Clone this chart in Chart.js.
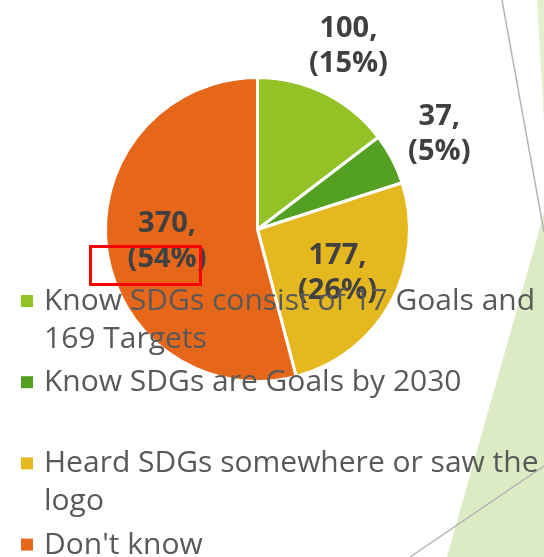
<!DOCTYPE html>
<html>
<head>
<meta charset="utf-8">
<script src="https://cdn.jsdelivr.net/npm/chart.js@4.4.0/dist/chart.umd.min.js"></script>
<style>
  html, body { margin: 0; padding: 0; background: #fff; }
  #wrap { position: relative; width: 544px; height: 557px; overflow: hidden; }
  #bg, #sdgCanvas { position: absolute; left: 0; top: 0; }
  #mark { position: absolute; left: 89px; top: 245px; width: 107px; height: 35px; border: 3px solid #ff0000; }
</style>
</head>
<body>
<div id="wrap">
  <svg id="bg" width="544" height="557">
    <polygon points="537,0 544,0 544,120" fill="#e3efcf"/>
    <polygon points="545,210 544,557 447,557" fill="#dcebc4"/>
    <line x1="502" y1="0" x2="544" y2="232" stroke="#b5b5b5" stroke-width="1.5"/>
    <line x1="410" y1="557" x2="544" y2="466" stroke="#b5b5b5" stroke-width="1.5"/>
  </svg>
  <canvas id="sdgCanvas" width="544" height="557"></canvas>
  <div id="mark"></div>
</div>
<script>
// answers to "do you know the SDGs?"
const categories = [
    ['Know SDGs consist of 17 Goals and', '169 Targets'],
    ['Know SDGs are Goals by 2030', ''],
    ['Heard SDGs somewhere or saw the', 'logo'],
    ["Don't know"]
];
const counts = [100, 37, 177, 370];
const sliceColors = ['#93c226', '#54a022', '#e5b820', '#e6671a'];

// value + percent labels, small slices go outside
const valueLabels = {
    id: 'valueLabels',
    afterDatasetsDraw(chart) {
        const ctx = chart.ctx;
        const data = chart.data.datasets[0].data;
        const total = data.reduce((a, b) => a + b, 0);
        ctx.save();
        ctx.font = 'bold 29px "Open Sans"';
        ctx.fillStyle = '#404040';
        ctx.textAlign = 'center';
        ctx.textBaseline = 'alphabetic';
        chart.getDatasetMeta(0).data.forEach((arc, i) => {
            const p = arc.getProps(['x', 'y', 'startAngle', 'endAngle', 'outerRadius'], true);
            const mid = (p.startAngle + p.endAngle) / 2;
            const share = data[i] / total;
            const r = p.outerRadius * (share < 0.2 ? 1.35 : 0.6);
            const x = p.x + Math.cos(mid) * r;
            const y = p.y + Math.sin(mid) * r;
            ctx.fillText(data[i] + ',', x, y - 9);
            ctx.fillText('(' + Math.round(share * 100) + '%)', x, y + 26);
        });
        ctx.restore();
    }
};

// legend drawn over the pie like in the slide
const sideLegend = {
    id: 'sideLegend',
    afterDraw(chart) {
        const ctx = chart.ctx;
        const colors = chart.data.datasets[0].backgroundColor;
        ctx.save();
        ctx.font = '30px "Open Sans"';
        ctx.textAlign = 'left';
        ctx.textBaseline = 'alphabetic';
        let y = 310;
        chart.data.labels.forEach((lines, i) => {
            ctx.fillStyle = colors[i];
            ctx.fillRect(21, y - 15, 12, 12);
            ctx.fillStyle = '#595959';
            lines.forEach(line => {
                ctx.fillText(line, 44, y);
                y += 37.5;
            });
            y += 6.2;
        });
        ctx.restore();
    }
};

new Chart(document.getElementById('sdgCanvas'), {
    type: 'pie',
    data: {
        labels: categories,
        datasets: [{
            data: counts,
            backgroundColor: sliceColors,
            borderColor: '#ffffff',
            borderWidth: 3,
            hoverOffset: 0
        }]
    },
    options: {
        responsive: false,
        animation: false,
        layout: { padding: { left: 104, right: 133, top: 76, bottom: 174 } },
        plugins: {
            legend: { display: false },
            tooltip: { enabled: false }
        }
    },
    plugins: [valueLabels, sideLegend]
});
</script>
</body>
</html>
